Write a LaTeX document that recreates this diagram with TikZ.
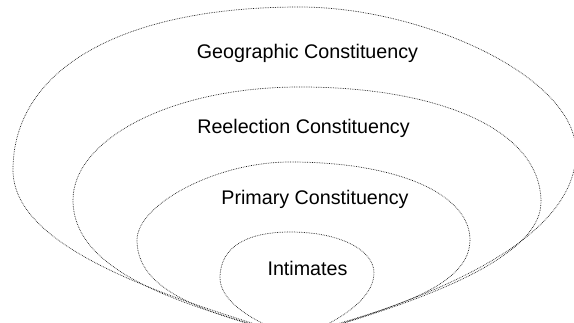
\documentclass[tikz,border=0pt]{standalone}
\usepackage{fontspec}
\setmainfont{Liberation Sans}
\begin{document}
\begin{tikzpicture}[x=1pt,y=-1pt,
  ring/.style={draw=black!90, line width=0.7pt, densely dotted},
  lab/.style={anchor=base, inner sep=0pt, font=\fontsize{19.7}{24}\selectfont}]
\useasboundingbox (0,0) rectangle (574,323);
\clip (0,0) rectangle (574,323);
\coordinate (P) at (297,337);
% Geographic (outer)
\draw[ring] (P) .. controls (170,298) and (13,250) .. (13,170)
  .. controls (13,70) and (120,7) .. (300,7)
  .. controls (420,7) and (576,75) .. (576,152)
  .. controls (576,250) and (400,307) .. (P);
% Reelection
\draw[ring] (P) .. controls (190,307) and (73,275) .. (73,200)
  .. controls (73,140) and (170,87) .. (300,87)
  .. controls (440,87) and (541,130) .. (541,202)
  .. controls (541,265) and (390,310) .. (P);
% Primary
\draw[ring] (P) .. controls (200,312) and (137,290) .. (137,240)
  .. controls (137,205) and (215,162) .. (290,162)
  .. controls (400,162) and (470,195) .. (470,240)
  .. controls (470,295) and (360,314) .. (P);
% Intimates
\draw[ring] (P) .. controls (250,322) and (220,300) .. (220,278)
  .. controls (220,245) and (250,232) .. (290,232)
  .. controls (340,232) and (374,250) .. (374,273)
  .. controls (374,300) and (335,324) .. (P);
\node[lab] (geo) at (307.5,59) {Geographic Constituency};
\node[lab] (ree) at (303.5,134) {Reelection Constituency};
\node[lab] (pri) at (315,205) {Primary Constituency};
\node[lab] (int) at (307.5,276) {Intimates};
\end{tikzpicture}
\end{document}
